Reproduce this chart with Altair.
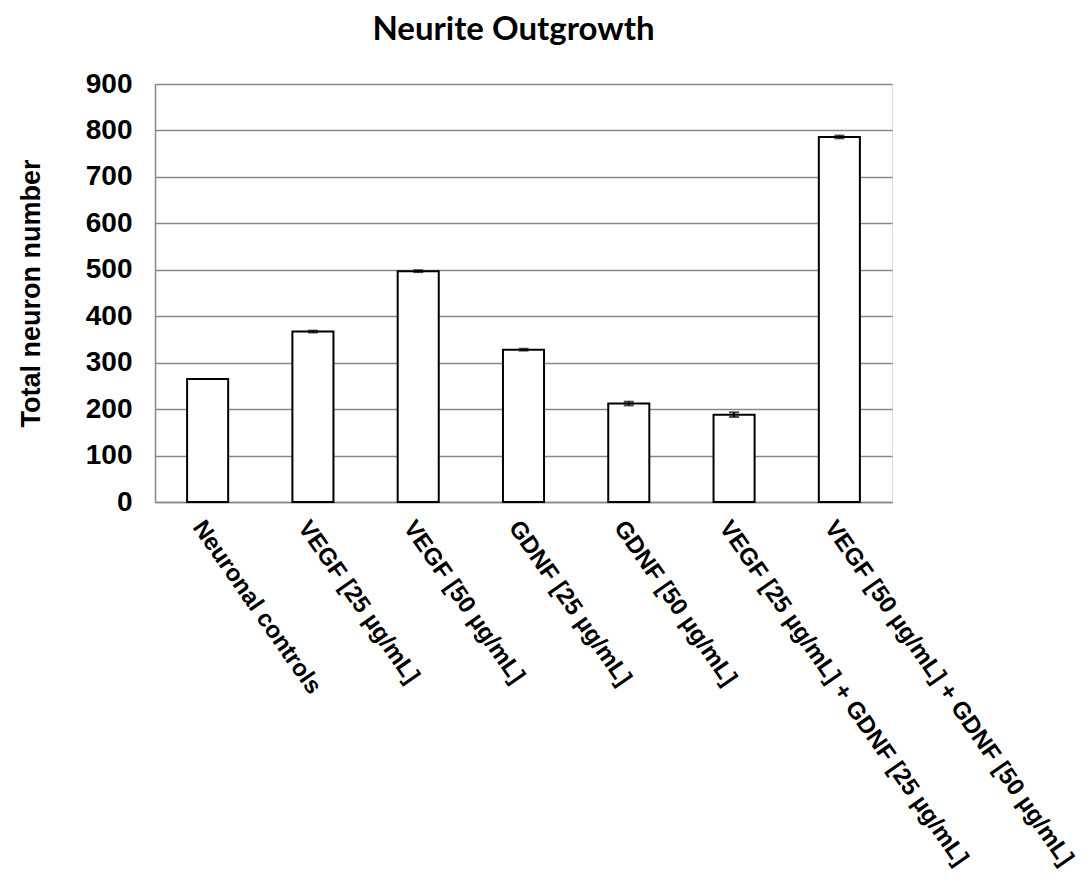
import altair as alt
import pandas as pd

categories = [
    "Neuronal controls",
    "VEGF [25 µg/mL]",
    "VEGF [50 µg/mL]",
    "GDNF [25 µg/mL]",
    "GDNF [50 µg/mL]",
    "VEGF [25 µg/mL] + GDNF [25 µg/mL]",
    "VEGF [50 µg/mL] + GDNF [50 µg/mL]",
]
values = [265, 367, 497, 328, 212, 188, 786]
errors = [0, 2, 2, 2, 4, 5, 3]
y_ticks = [0, 100, 200, 300, 400, 500, 600, 700, 800, 900]

df = pd.DataFrame({"cat": categories, "value": values, "err": errors})
df["lo"] = df["value"] - df["err"]
df["hi"] = df["value"] + df["err"]

AX_FONT = "Liberation Sans"

x_enc = alt.X(
    "cat:N",
    sort=categories,
    title=None,
    scale=alt.Scale(paddingInner=0.61, paddingOuter=0.305),
    axis=alt.Axis(
        labelAngle=55,
        labelAlign="left",
        labelBaseline="top",
        labelFont=AX_FONT,
        labelFontWeight="bold",
        labelFontSize=24,
        labelColor="black",
        labelLimit=0,
        labelPadding=14,
        ticks=False,
        domainColor="#888888",
        domainWidth=1.5,
        grid=False,
    ),
)

y_enc = alt.Y(
    "value:Q",
    title="Total neuron number",
    scale=alt.Scale(domain=[0, 900], nice=False),
    axis=alt.Axis(
        values=y_ticks,
        labelFont=AX_FONT,
        labelFontWeight="bold",
        labelFontSize=28,
        labelColor="black",
        labelPadding=23,
        ticks=False,
        domainColor="#888888",
        domainWidth=1.5,
        gridColor="#888888",
        gridWidth=1.5,
        titleFont=AX_FONT,
        titleFontWeight="bold",
        titleFontSize=27,
        titleColor="black",
        titlePadding=40,
    ),
)

bars = alt.Chart(df).mark_bar(fill="white", stroke="black", strokeWidth=2).encode(
    x=x_enc, y=y_enc
)

err_df = df[df["err"] > 0]
err_rule = alt.Chart(err_df).mark_rule(color="black", strokeWidth=2).encode(
    x=alt.X("cat:N", sort=categories),
    y="lo:Q",
    y2="hi:Q",
)
err_hi = alt.Chart(err_df).mark_tick(color="black", thickness=2, size=10).encode(
    x=alt.X("cat:N", sort=categories), y="hi:Q"
)
err_lo = alt.Chart(err_df).mark_tick(color="black", thickness=2, size=10).encode(
    x=alt.X("cat:N", sort=categories), y="lo:Q"
)

chart = (
    alt.layer(bars, err_rule, err_hi, err_lo)
    .properties(
        width=737,
        height=418,
        title=alt.Title(
            "Neurite Outgrowth",
            font="Lato",
            fontSize=33,
            fontWeight="bold",
            color="black",
            anchor="middle",
            dx=-10,
            offset=23,
        ),
        autosize=alt.AutoSizeParams(type="none"),
        padding={"left": 147, "top": 76, "right": 190, "bottom": 375},
    )
    .configure_view(stroke=None)
    .configure(background="white")
)

chart.save("out.html", embed_options={"renderer": "svg", "actions": False})
